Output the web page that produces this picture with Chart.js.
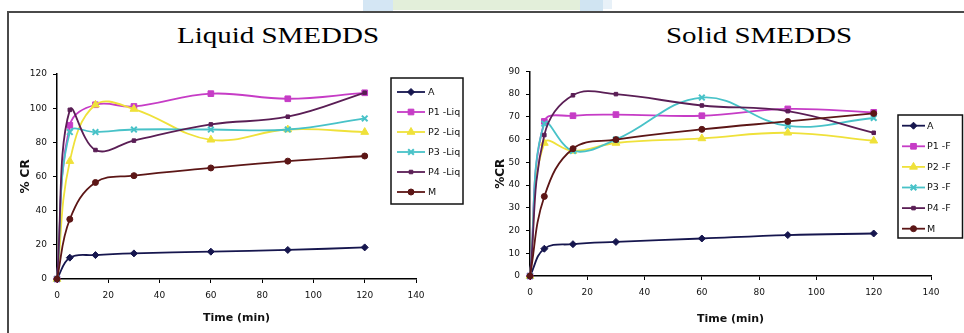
<!DOCTYPE html>
<html><head><meta charset="utf-8">
<script src="https://cdn.jsdelivr.net/npm/chart.js@4.4.1/dist/chart.umd.min.js"></script>
<style>
html,body{margin:0;padding:0;background:#fff;}
body{width:964px;height:333px;position:relative;overflow:hidden;}
.deco{position:absolute;top:0;}
.lineTop{position:absolute;left:8px;top:11px;width:956px;height:1.5px;background:#4a4a4a;}
.lineLeft{position:absolute;left:7px;top:11px;width:1.5px;height:322px;background:#4a4a4a;}
.title{position:absolute;top:24px;width:300px;text-align:center;font-family:"Liberation Serif","Times New Roman",serif;font-size:23px;line-height:23px;color:#000;transform:scaleX(1.26);transform-origin:center;white-space:nowrap;}
canvas{position:absolute;}
</style></head><body>
<div class="deco" style="left:363px;width:30px;height:12px;background:#d4e6f4"></div>
<div class="deco" style="left:393px;width:187px;height:10px;background:#e3efda"></div>
<div class="deco" style="left:580px;width:23px;height:12px;background:#d0e4f2"></div>
<div class="deco" style="left:603px;width:9px;height:9px;background:#e8f1f8"></div>
<div class="lineTop"></div>
<div class="lineLeft"></div>
<div class="title" style="left:128px">Liquid SMEDDS</div>
<div class="title" style="left:609px">Solid SMEDDS</div>
<canvas id="c1" width="470" height="273" style="left:10px;top:60px"></canvas>
<canvas id="c2" width="480" height="273" style="left:484px;top:60px"></canvas>
<script>
// ---- data ----
const times = [0, 5, 15, 30, 60, 90, 120];
const xTicks = [0, 20, 40, 60, 80, 100, 120, 140];
const yTicksLiq = [0, 20, 40, 60, 80, 100, 120];
const yTicksSol = [0, 10, 20, 30, 40, 50, 60, 70, 80, 90];
const liqLabels = ['A', 'P1 -Liq', 'P2 -Liq', 'P3 -Liq', 'P4 -Liq', 'M'];
const solLabels = ['A', 'P1 -F', 'P2 -F', 'P3 -F', 'P4 -F', 'M'];

const liqA  = [0, 12.5, 14, 15, 16, 17, 18.5];
const liqP1 = [0, 90, 102, 101, 108.5, 105.5, 109];
const liqP2 = [0, 69, 102, 99.5, 81.5, 87.5, 86];
const liqP3 = [0, 86, 86, 87.5, 87.5, 87.5, 94];
const liqP4 = [0, 99, 75.5, 81, 90.5, 95, 109];
const liqM  = [0, 35, 56.5, 60.5, 65, 69, 72];

const solA  = [0, 12, 14, 15, 16.5, 18, 18.7];
const solP1 = [0, 68, 70.5, 71, 70.5, 73.5, 72];
const solP2 = [0, 58.5, 55, 58.5, 60.5, 63, 59.5];
const solP3 = [0, 67, 55, 60, 78.5, 66, 69.5];
const solP4 = [0, 62, 79.5, 80, 75, 72.5, 63];
const solM  = [0, 35, 56, 60, 64.5, 68, 71.5];

// ---- styles ----
const styles = [
  {color:'#16164e', ps:'rectRot', r:3.5, bw:1},
  {color:'#c63cc6', ps:'rect', r:4, bw:1},
  {color:'#efe13a', ps:'triangle', r:4.5, bw:1},
  {color:'#48c2c8', ps:'crossRot', r:4, bw:2},
  {color:'#5a1e55', ps:'rect', r:2.5, bw:1},
  {color:'#5c1616', ps:'circle', r:3, bw:1}
];

function makeDatasets(labels, series){
  return series.map((vals, i) => {
    const st = styles[i];
    return {
      label: labels[i],
      data: times.map((t, j) => ({x: t, y: vals[j]})),
      borderColor: st.color, backgroundColor: st.color,
      pointStyle: st.ps, pointRadius: st.r, pointHoverRadius: st.r,
      pointBorderWidth: st.bw, pointBorderColor: st.color, pointBackgroundColor: st.color,
      borderWidth: 1.8, tension: 0.4, clip: false, order: series.length - i
    };
  });
}

function drawMarker(ctx, ds, x, y){
  ctx.fillStyle = ds.backgroundColor; ctx.strokeStyle = ds.borderColor;
  ctx.lineWidth = ds.pointBorderWidth;
  if (Chart.helpers && Chart.helpers.drawPoint){
    Chart.helpers.drawPoint(ctx, {pointStyle: ds.pointStyle, radius: ds.pointRadius, borderWidth: ds.pointBorderWidth, rotation: 0}, x, y);
  } else {
    ctx.beginPath(); ctx.arc(x, y, ds.pointRadius, 0, Math.PI*2); ctx.fill();
  }
}

const boxLegend = {
  id: 'boxLegend',
  afterDraw(chart, args, o){
    const ctx = chart.ctx; ctx.save();
    const [x0, y0, x1, y1] = o.box;
    ctx.fillStyle = '#fff'; ctx.fillRect(x0, y0, x1 - x0, y1 - y0);
    ctx.strokeStyle = '#111'; ctx.lineWidth = 1.5; ctx.strokeRect(x0, y0, x1 - x0, y1 - y0);
    ctx.font = '9.5px "DejaVu Sans"'; ctx.textBaseline = 'middle'; ctx.textAlign = 'left';
    chart.data.datasets.forEach((ds, i) => {
      const y = o.firstY + i * o.dy;
      ctx.strokeStyle = ds.borderColor; ctx.lineWidth = ds.borderWidth;
      ctx.beginPath(); ctx.moveTo(o.lineX0, y); ctx.lineTo(o.lineX1, y); ctx.stroke();
      drawMarker(ctx, ds, (o.lineX0 + o.lineX1) / 2, y);
      ctx.fillStyle = '#111'; ctx.fillText(ds.label, o.textX, y + 0.5);
    });
    ctx.restore();
  }
};

function makeChart(id, labels, series, yTicks, yMax, yTitle, geo){
  const tickFont = {family: 'DejaVu Sans', size: 9};
  return new Chart(document.getElementById(id), {
    type: 'line',
    data: {datasets: makeDatasets(labels, series)},
    plugins: [boxLegend],
    options: {
      responsive: false, animation: false, devicePixelRatio: 1,
      layout: {padding: {left: 0, top: geo.padTop, right: geo.padRight, bottom: 0}},
      plugins: {legend: {display: false}, tooltip: {enabled: false}, boxLegend: geo.legend},
      scales: {
        x: {
          type: 'linear', min: 0, max: 140,
          afterBuildTicks: s => { s.ticks = xTicks.map(v => ({value: v})); },
          ticks: {font: tickFont, color: '#111', padding: 7, maxRotation: 0, autoSkip: false},
          grid: {display: true, drawOnChartArea: false, drawTicks: true, tickLength: 4, color: '#000', lineWidth: 1},
          border: {color: '#000', width: 1.5},
          title: {display: true, text: 'Time (min)', color: '#111', font: {family: 'DejaVu Sans', weight: 'bold', size: 11}, padding: {top: 0, bottom: geo.xTitlePad}},
          afterFit: s => { s.height = geo.xAxisH; }
        },
        y: {
          type: 'linear', min: 0, max: yMax,
          afterBuildTicks: s => { s.ticks = yTicks.map(v => ({value: v})); },
          ticks: {font: tickFont, color: '#111', padding: 6, autoSkip: false},
          grid: {display: true, drawOnChartArea: false, drawTicks: true, tickLength: 4, color: '#000', lineWidth: 1},
          border: {color: '#000', width: 1.5},
          title: {display: true, text: yTitle, color: '#111', font: {family: 'DejaVu Sans', weight: 'bold', size: 12}, padding: {top: geo.yTitlePad, bottom: 0}},
          afterFit: s => { s.width = geo.yAxisW; }
        }
      }
    }
  });
}

makeChart('c1', liqLabels, [liqA, liqP1, liqP2, liqP3, liqP4, liqM], yTicksLiq, 120, '% CR', {
  padTop: 14, padRight: 64, xAxisH: 54, yAxisW: 47, xTitlePad: 8.4, yTitlePad: 8.8,
  legend: {box: [381, 18, 453, 144], firstY: 32, dy: 20, lineX0: 387, lineX1: 415, textX: 418}
});
makeChart('c2', solLabels, [solA, solP1, solP2, solP3, solP4, solM], yTicksSol, 90, '%CR', {
  padTop: 10, padRight: 33, xAxisH: 57, yAxisW: 46, xTitlePad: 7.4, yTitlePad: 9.8,
  legend: {box: [414, 55, 478.5, 178], firstY: 65.7, dy: 20.6, lineX0: 418, lineX1: 441, textX: 443}
});
</script>
</body></html>
